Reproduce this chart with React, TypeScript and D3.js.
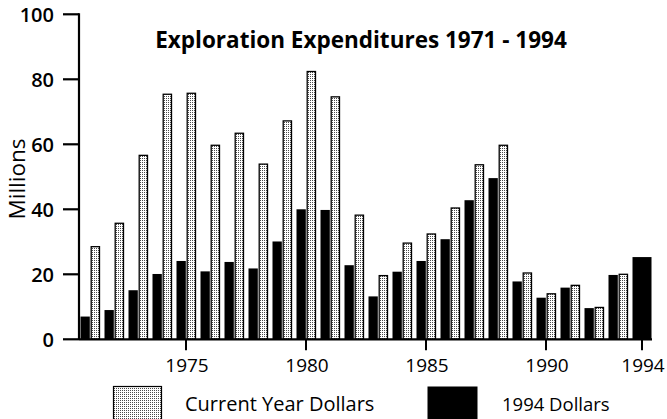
import React from "react";
import * as d3 from "d3";

const years = [1971, 1972, 1973, 1974, 1975, 1976, 1977, 1978, 1979, 1980, 1981, 1982, 1983, 1984, 1985, 1986, 1987, 1988, 1989, 1990, 1991, 1992, 1993, 1994];
const currentYearDollars: (number | null)[] = [28.5, 35.7, 56.6, 75.4, 75.7, 59.7, 63.4, 53.9, 67.2, 82.4, 74.6, 38.2, 19.6, 29.6, 32.4, 40.4, 53.7, 59.7, 20.4, 14.0, 16.6, 9.8, 20.0, null];
const dollars1994 = [7.0, 9.0, 15.1, 20.1, 24.1, 20.9, 23.8, 21.8, 30.1, 40.0, 39.8, 22.8, 13.2, 20.8, 24.1, 30.8, 42.8, 49.6, 17.8, 12.8, 15.9, 9.6, 19.8, 25.3];
const yTicks = [0, 20, 40, 60, 80, 100];
const xTicks = [1975, 1980, 1985, 1990, 1994];
const title = "Exploration Expenditures 1971 - 1994";
const yLabel = "Millions";
const legendLabels = ["Current Year Dollars", "1994 Dollars"];

const W = 667;
const H = 419;
const FONT = "'Open Sans', 'Noto Sans', sans-serif";

export default function App() {
  const x = d3.scaleBand<number>().domain(years).range([78, 654]).padding(0);
  const y = d3.scaleLinear().domain([0, 100]).range([339.3, 14.3]);
  const axisX = 79;
  const cx = (yr: number) => (x(yr) as number) + x.bandwidth() / 2;

  return (
    <svg width={W} height={H} style={{ position: "absolute", left: 0, top: 0, background: "#fff" }}>
      <defs>
        <pattern id="dots" width="2" height="2" patternUnits="userSpaceOnUse">
          <rect width="2" height="2" fill="#ffffff" />
          <rect width="1" height="1" fill="#4a4a4a" />
        </pattern>
      </defs>
      <rect width={W} height={H} fill="#fff" />

      {/* bars */}
      {years.map((yr, i) => {
        const c = cx(yr);
        const cur = currentYearDollars[i];
        const b = dollars1994[i];
        if (cur === null) {
          return (
            <rect key={yr} x={c - 9.5} y={y(b)} width={19} height={y(0) - y(b)} fill="#000" />
          );
        }
        return (
          <g key={yr}>
            <rect x={c - 9.5} y={y(b)} width={9.3} height={y(0) - y(b)} fill="#000" />
            <rect x={c + 1.2} y={y(cur)} width={8.3} height={y(0) - y(cur)} fill="url(#dots)" stroke="#000" strokeWidth={1.3} />
          </g>
        );
      })}

      {/* y axis */}
      <line x1={axisX} x2={axisX} y1={y(100) - 1} y2={y(0)} stroke="#000" strokeWidth={2.2} />
      {yTicks.map((t) => (
        <g key={t}>
          <line x1={63} x2={axisX} y1={y(t)} y2={y(t)} stroke="#000" strokeWidth={2.2} />
          <text x={54} y={y(t)} dy="0.36em" textAnchor="end" fontFamily={FONT} fontWeight={600} fontSize={20} fill="#000">
            {t}
          </text>
        </g>
      ))}
      <text
        transform={`translate(25,${(134 + 224) / 2}) rotate(-90)`}
        textAnchor="middle"
        fontFamily={FONT}
        fontSize={22.5}
        fill="#000"
      >
        {yLabel}
      </text>

      {/* x axis */}
      <line x1={axisX} x2={652} y1={y(0)} y2={y(0)} stroke="#000" strokeWidth={2.2} />
      {xTicks.map((t) => (
        <g key={t}>
          <line x1={cx(t)} x2={cx(t)} y1={y(0)} y2={y(0) + 11} stroke="#000" strokeWidth={2} />
          <text x={cx(t) + 1} y={372} textAnchor="middle" fontFamily={FONT} fontSize={19} fill="#000">
            {t}
          </text>
        </g>
      ))}

      {/* title */}
      <text x={361} y={47.5} textAnchor="middle" fontFamily={FONT} fontWeight="bold" fontSize={22.5} fill="#000">
        {title}
      </text>

      {/* legend */}
      <rect x={113.5} y={386.5} width={48} height={36} fill="url(#dots)" stroke="#000" strokeWidth={1.2} />
      <text x={185} y={411} fontFamily={FONT} fontSize={20} fill="#000">
        {legendLabels[0]}
      </text>
      <rect x={427.5} y={386.5} width={50} height={36} fill="#000" />
      <text x={502} y={411} fontFamily={FONT} fontSize={18.5} fill="#000">
        {legendLabels[1]}
      </text>
    </svg>
  );
}
